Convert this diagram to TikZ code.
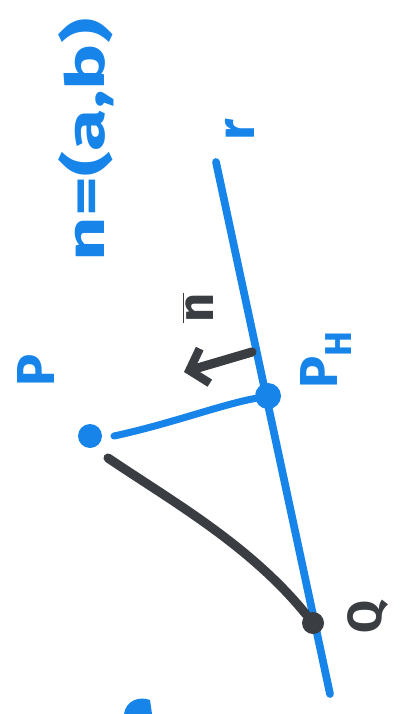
\documentclass[tikz,border=0pt]{standalone}
\usepackage{fontspec}
\setsansfont{Fira Sans}
\usetikzlibrary{arrows.meta}
\definecolor{pen}{RGB}{22,132,232}
\definecolor{ink}{RGB}{58,62,66}
\tikzset{
  bluepen/.style={draw=pen, line width=5.5pt, line cap=round},
  inkpen/.style={draw=ink, line width=6.5pt, line cap=round},
  dotb/.style={circle, fill=pen, inner sep=0pt, minimum size=#1},
  doti/.style={circle, fill=ink, inner sep=0pt, minimum size=#1},
  lbl/.style={font=\sffamily\bfseries\fontsize{38}{38}\selectfont, rotate=90, inner sep=0pt},
}
\begin{document}
\begin{tikzpicture}[x=0.25mm, y=-0.25mm]
\useasboundingbox (0,0) rectangle (400,714);
\clip (0,0) rectangle (400,714);
% line r
\coordinate (rtop) at (216,162);
\coordinate (rbot) at (330,694);
\draw[bluepen] (rtop) -- (rbot);
% points
\node[dotb=6mm] (P) at (90,436) {};
\node[dotb=6.5mm] (PH) at (268,396) {};
\node[doti=5.5mm] (Q) at (313,623) {};
% connectors
\draw[bluepen, line width=5pt] ([xshift=6mm]P.center) .. controls (170,424) and (220,405) .. (PH);
\draw[inkpen] ([shift={(4.5mm,-5.5mm)}]P.center) .. controls (170,500) and (250,545) .. (Q);
% normal arrow
\coordinate (a0) at (252,352);
\coordinate (a1) at (184,372);
\draw[inkpen, -{Straight Barb[length=4mm, width=9mm, line width=6pt]}] (a0) -- (a1);
% labels
\node[lbl, text=pen, xscale=1.45] (neq) at (86,140) {n=(a,b)};
\node[lbl, text=pen] (rl) at (240,130) {r};
\node[lbl, text=pen] (Pl) at (36,370) {P};
\node[lbl, text=pen] (PHl) at (326,360) {P\textsubscript{H}};
\node[lbl, text=ink, font=\sffamily\bfseries\fontsize{36}{36}\selectfont] (nl) at (198,308) {$\overline{\mbox{n}}$};
\node[lbl, text=ink, font=\sffamily\bfseries\fontsize{34}{34}\selectfont] (Ql) at (368,617) {Q};
% cut-off blue stroke at bottom
\fill[pen] (124,714) .. controls (126,700) and (140,696) .. (150,700) -- (152,714) -- cycle;
\end{tikzpicture}
\end{document}
